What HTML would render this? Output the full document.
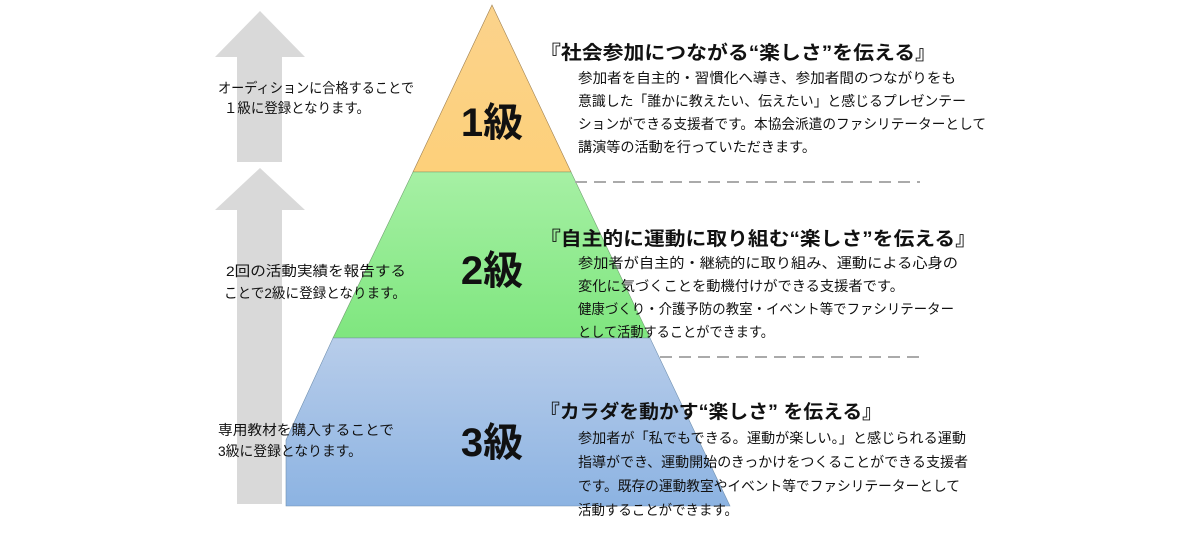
<!DOCTYPE html>
<html><head><meta charset="utf-8"><style>
html,body{margin:0;padding:0;background:#fff;}
svg{display:block}
text{font-family:"Liberation Sans","Noto Sans CJK JP",sans-serif;fill:#111;}
.b{font-size:14px;}
.t{font-size:19px;font-weight:bold;}
.l{font-size:40px;font-weight:bold;}
</style></head><body>
<svg width="1200" height="556" viewBox="0 0 1200 556" xmlns="http://www.w3.org/2000/svg">
<defs>
<linearGradient id="g1" x1="0" y1="0" x2="0" y2="1"><stop offset="0" stop-color="#fbd38c"/><stop offset="1" stop-color="#fdd07a"/></linearGradient>
<linearGradient id="g2" x1="0" y1="0" x2="0" y2="1"><stop offset="0" stop-color="#a6f0a4"/><stop offset="1" stop-color="#7fe67f"/></linearGradient>
<linearGradient id="g3" x1="0" y1="0" x2="0" y2="1"><stop offset="0" stop-color="#b8cdea"/><stop offset="1" stop-color="#8cb3e2"/></linearGradient>
</defs>
<!-- arrows -->
<polygon points="260,11 305,57 282,57 282,162 237,162 237,57 215,57" fill="#d9d9d9"/>
<polygon points="260,168 305,210 282,210 282,504 237,504 237,210 215,210" fill="#d9d9d9"/>
<!-- pyramid -->
<polygon points="492,5 571,172 413,172" fill="url(#g1)" stroke="#a08050" stroke-width="0.6"/>
<polygon points="413,172 571,172 650,338 333,338" fill="url(#g2)" stroke="#70a070" stroke-width="0.6"/>
<polygon points="333,338 650,338 730,506 286,506 286,440" fill="url(#g3)" stroke="#7090b0" stroke-width="0.6"/>
<!-- dashed -->
<line x1="575" y1="182" x2="920" y2="182" stroke="#aaa" stroke-width="2" stroke-dasharray="12,7"/>
<line x1="660" y1="357" x2="925" y2="357" stroke="#aaa" stroke-width="2" stroke-dasharray="12,7"/>
<!-- level labels -->
<text class="l" x="492" y="136" text-anchor="middle">1級</text>
<text class="l" x="492" y="284" text-anchor="middle">2級</text>
<text class="l" x="492" y="456" text-anchor="middle">3級</text>
<!-- left texts -->
<text class="b" x="218" y="93" textLength="196" lengthAdjust="spacingAndGlyphs">オーディションに合格することで</text>
<text class="b" x="224" y="113" textLength="146" lengthAdjust="spacingAndGlyphs">１級に登録となります。</text>
<text class="b" x="226" y="276" textLength="180" lengthAdjust="spacingAndGlyphs">2回の活動実績を報告する</text>
<text class="b" x="224" y="298" textLength="182" lengthAdjust="spacingAndGlyphs">ことで2級に登録となります。</text>
<text class="b" x="218" y="435" textLength="176" lengthAdjust="spacingAndGlyphs">専用教材を購入することで</text>
<text class="b" x="218" y="456" textLength="144" lengthAdjust="spacingAndGlyphs">3級に登録となります。</text>
<!-- level 1 -->
<text class="t" x="540" y="59" textLength="396" lengthAdjust="spacingAndGlyphs">『社会参加につながる“楽しさ”を伝える』</text>
<text class="b" x="578" y="83" textLength="378" lengthAdjust="spacingAndGlyphs">参加者を自主的・習慣化へ導き、参加者間のつながりをも</text>
<text class="b" x="578" y="106" textLength="388" lengthAdjust="spacingAndGlyphs">意識した「誰かに教えたい、伝えたい」と感じるプレゼンテー</text>
<text class="b" x="578" y="129" textLength="408" lengthAdjust="spacingAndGlyphs">ションができる支援者です。本協会派遣のファシリテーターとして</text>
<text class="b" x="578" y="152" textLength="238" lengthAdjust="spacingAndGlyphs">講演等の活動を行っていただきます。</text>
<!-- level 2 -->
<text class="t" x="540" y="245" textLength="436" lengthAdjust="spacingAndGlyphs">『自主的に運動に取り組む“楽しさ”を伝える』</text>
<text class="b" x="578" y="268" textLength="380" lengthAdjust="spacingAndGlyphs">参加者が自主的・継続的に取り組み、運動による心身の</text>
<text class="b" x="578" y="291" textLength="326" lengthAdjust="spacingAndGlyphs">変化に気づくことを動機付けができる支援者です。</text>
<text class="b" x="578" y="314" textLength="376" lengthAdjust="spacingAndGlyphs">健康づくり・介護予防の教室・イベント等でファシリテーター</text>
<text class="b" x="578" y="337" textLength="196" lengthAdjust="spacingAndGlyphs">として活動することができます。</text>
<!-- level 3 -->
<text class="t" x="540" y="418" textLength="342" lengthAdjust="spacingAndGlyphs">『カラダを動かす“楽しさ” を伝える』</text>
<text class="b" x="578" y="443" textLength="388" lengthAdjust="spacingAndGlyphs">参加者が「私でもできる。運動が楽しい。」と感じられる運動</text>
<text class="b" x="578" y="467" textLength="390" lengthAdjust="spacingAndGlyphs">指導ができ、運動開始のきっかけをつくることができる支援者</text>
<text class="b" x="578" y="491" textLength="382" lengthAdjust="spacingAndGlyphs">です。既存の運動教室やイベント等でファシリテーターとして</text>
<text class="b" x="578" y="515" textLength="160" lengthAdjust="spacingAndGlyphs">活動することができます。</text>
</svg>
</body></html>
